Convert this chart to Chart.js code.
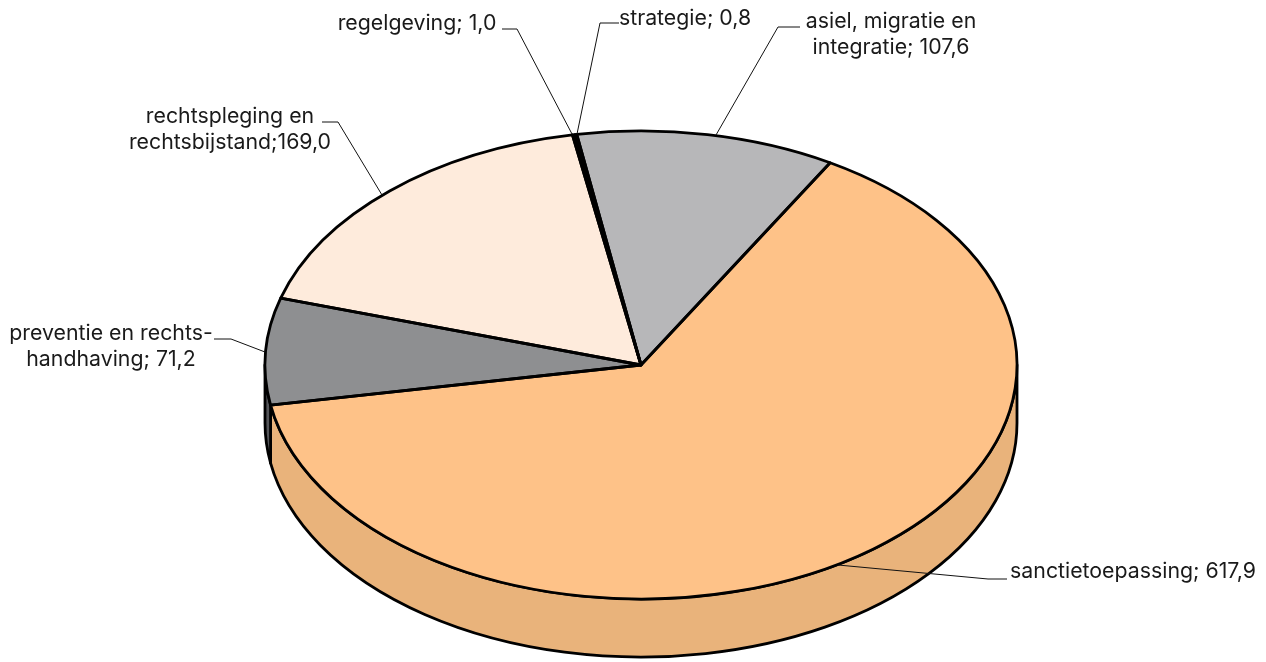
<!DOCTYPE html>
<html>
<head>
<meta charset="utf-8">
<title>Uitgaven per beleidsterrein</title>
<style>
  html, body { margin: 0; padding: 0; background: #fff; }
  canvas { display: block; }
</style>
<script src="https://cdn.jsdelivr.net/npm/chart.js@4"></script>
</head>
<body>
<canvas id="pie" width="1266" height="662"></canvas>
<script>
// Data, clockwise from the first slice
const categories = ["sanctietoepassing", "preventie en rechtshandhaving", "rechtspleging en rechtsbijstand", "regelgeving", "strategie", "asiel, migratie en integratie"];
const values = [617.9, 71.2, 169.0, 1.0, 0.8, 107.6];
const topColors = ["#FEC288", "#8E8F91", "#FEEBDC", "#000000", "#000000", "#B7B7B9"];
const sideColors = ["#E9B37B", "#55565A", "#E9D8CA", "#000000", "#000000", "#A8A8AA"];

const labelLines = [
  ["sanctietoepassing; 617,9"],
  ["preventie en rechts-", "handhaving; 71,2"],
  ["rechtspleging en", "rechtsbijstand;169,0"],
  ["regelgeving; 1,0"],
  ["strategie; 0,8"],
  ["asiel, migratie en", "integratie; 107,6"]
];

// Label placement: text centre x, first baseline, and the leader line
const labelPlacement = [
  { x: 1133, y: 578, leader: [[838, 565], [988, 579], [1007, 579]] },
  { x: 111, y: 340, leader: [[214, 339], [231, 339], [265, 352]] },
  { x: 230, y: 123, leader: [[322, 122], [338, 122], [382, 195]] },
  { x: 417, y: 30, leader: [[502, 29], [517, 29], [572, 134]] },
  { x: 685, y: 25, leader: [[619, 23], [600, 23], [577, 134]] },
  { x: 891, y: 28, leader: [[716, 135], [778, 27], [800, 27]] }
];

const squash = 234 / 376;   // tilt of the pie
const depth = 58;           // height of the side wall
const edgeWidth = 2.8;
const fontName = '21.3px Inter, "Noto Sans", sans-serif';

// Everything drawn for the pie goes through this vertical squash
function squashed(ctx, arc, fn) {
  ctx.save();
  ctx.translate(0, arc.y);
  ctx.scale(1, squash);
  ctx.translate(0, -arc.y);
  fn();
  ctx.restore();
}

const pie3d = {
  id: "pie3d",
  beforeDatasetDraw(chart) {
    const ctx = chart.ctx;
    const arcs = chart.getDatasetMeta(0).data;

    // Side wall: only the front half of the rim is visible
    arcs.forEach((arc, i) => {
      [-2 * Math.PI, 0, 2 * Math.PI].forEach(shift => {
        const a = Math.max(arc.startAngle, shift);
        const b = Math.min(arc.endAngle, shift + Math.PI);
        if (b <= a) return;
        ctx.beginPath();
        squashed(ctx, arc, () => ctx.arc(arc.x, arc.y, arc.outerRadius, a, b));
        ctx.save();
        ctx.translate(0, depth);
        squashed(ctx, arc, () => ctx.arc(arc.x, arc.y, arc.outerRadius, b, a, true));
        ctx.restore();
        ctx.closePath();
        ctx.fillStyle = sideColors[i];
        ctx.fill();
        ctx.lineWidth = edgeWidth;
        ctx.lineJoin = "round";
        ctx.strokeStyle = "#000";
        ctx.stroke();
      });
    });

    // Top face is drawn by the library, inside the same squash
    const arc = arcs[0];
    ctx.save();
    ctx.translate(0, arc.y);
    ctx.scale(1, squash);
    ctx.translate(0, -arc.y);
  },
  afterDatasetDraw(chart) {
    const ctx = chart.ctx;
    ctx.restore();

    // Outline after the squash so the pen stays round
    chart.getDatasetMeta(0).data.forEach(arc => {
      ctx.beginPath();
      squashed(ctx, arc, () => {
        ctx.moveTo(arc.x, arc.y);
        ctx.arc(arc.x, arc.y, arc.outerRadius, arc.startAngle, arc.endAngle);
        ctx.closePath();
      });
      ctx.lineWidth = edgeWidth;
      ctx.lineJoin = "round";
      ctx.strokeStyle = "#000";
      ctx.stroke();
    });
  },
  afterDraw(chart) {
    const ctx = chart.ctx;
    labelPlacement.forEach((place, i) => {
      ctx.beginPath();
      place.leader.forEach((p, j) => j ? ctx.lineTo(p[0], p[1]) : ctx.moveTo(p[0], p[1]));
      ctx.lineWidth = 1;
      ctx.strokeStyle = "#111";
      ctx.stroke();

      ctx.font = fontName;
      ctx.fillStyle = "#1a1a1a";
      ctx.textAlign = "center";
      ctx.textBaseline = "alphabetic";
      labelLines[i].forEach((line, k) => ctx.fillText(line, place.x, place.y + k * 25.5));
    });
  }
};

new Chart(document.getElementById("pie"), {
  type: "pie",
  data: {
    labels: categories,
    datasets: [{
      data: values,
      backgroundColor: topColors,
      borderWidth: 0,
      radius: 376,
      rotation: 30.2,
      clip: false
    }]
  },
  options: {
    responsive: false,
    animation: false,
    devicePixelRatio: 1,
    events: [],
    layout: { padding: { left: 16, top: 68, right: 0, bottom: 0 } },
    plugins: { legend: { display: false }, tooltip: { enabled: false } }
  },
  plugins: [pie3d]
});
</script>
</body>
</html>
